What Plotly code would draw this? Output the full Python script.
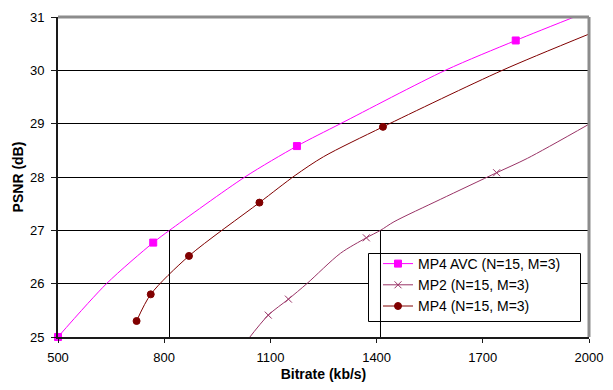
import plotly.graph_objects as go

# ---- data ----
x_ticks = [500, 800, 1100, 1400, 1700, 2000]
y_ticks = [25, 26, 27, 28, 29, 30, 31]

series_names = ["MP4 AVC (N=15, M=3)", "MP2 (N=15, M=3)", "MP4 (N=15, M=3)"]

avc_curve_x = [500, 637, 769, 815, 1028, 1175, 1298, 1594, 1793, 1985]
avc_curve_y = [25.0, 26.0, 26.77, 27.0, 28.0, 28.58, 29.0, 30.0, 30.56, 31.07]
avc_mark_x = [500, 769, 1175, 1793]
avc_mark_y = [25.0, 26.77, 28.58, 30.56]

mp2_curve_x = [1035, 1094, 1151, 1203, 1298, 1371, 1411, 1449, 1580, 1739, 1826, 2000]
mp2_curve_y = [24.94, 25.41, 25.71, 26.0, 26.57, 26.86, 27.0, 27.16, 27.58, 28.08, 28.35, 28.99]
mp2_mark_x = [1094, 1151, 1371, 1739]
mp2_mark_y = [25.41, 25.71, 26.86, 28.08]

mp4_curve_x = [722, 762, 870, 1069, 1170, 1250, 1418, 1755, 2000]
mp4_curve_y = [25.30, 25.80, 26.52, 27.52, 28.03, 28.38, 28.94, 30.0, 30.68]
mp4_mark_x = [722, 762, 870, 1069, 1418]
mp4_mark_y = [25.30, 25.80, 26.52, 27.52, 28.94]

# bitrates where PSNR = 27 dB (drop lines)
drop_x = [815, 1411]
drop_y_bottom = 25
drop_y_top = 27

FONT = "Liberation Sans, Arial, sans-serif"

styles = [
    dict(color="#FF00FF", symbol="square", size=7, lw=1),
    dict(color="#993366", symbol="x-thin", size=7, lw=1),
    dict(color="#800000", symbol="circle", size=7, lw=1),
]
curves = [(avc_curve_x, avc_curve_y), (mp2_curve_x, mp2_curve_y), (mp4_curve_x, mp4_curve_y)]
marks = [(avc_mark_x, avc_mark_y), (mp2_mark_x, mp2_mark_y), (mp4_mark_x, mp4_mark_y)]

fig = go.Figure()

for name, st, (cx, cy), (mx, my) in zip(series_names, styles, curves, marks):
    fig.add_trace(go.Scatter(x=cx, y=cy, mode="lines", line=dict(color=st["color"], width=st["lw"],
                             shape="spline", smoothing=0.8), showlegend=False, hoverinfo="skip"))
    mk = dict(color=st["color"], symbol=st["symbol"], size=st["size"],
              line=dict(color=st["color"], width=1))
    fig.add_trace(go.Scatter(x=mx, y=my, mode="markers", marker=mk, showlegend=False,
                             cliponaxis=False))
    # legend entry
    fig.add_trace(go.Scatter(x=[None], y=[None], mode="lines+markers", name=name,
                             line=dict(color=st["color"], width=1), marker=mk))

L, R, T, B = 58, 24, 17, 53
W, H = 613, 390
pw, ph = W - L - R, H - T - B

def px2paper_x(p):
    return (p - L) / pw

def px2paper_y(p):
    return (H - B - p) / ph

shapes = [
    # top and right border of plot area (gray)
    dict(type="line", xref="paper", yref="paper", x0=0, x1=1, y0=1, y1=1,
         line=dict(color="#8C8C8C", width=3), layer="above"),
    dict(type="line", xref="paper", yref="paper", x0=1, x1=1, y0=0, y1=1,
         line=dict(color="#8C8C8C", width=3), layer="above"),
    # legend box (white, bordered)
    dict(type="rect", xref="paper", yref="paper",
         x0=px2paper_x(368.5), x1=px2paper_x(580.5), y0=px2paper_y(321.5), y1=px2paper_y(253.5),
         fillcolor="#FFFFFF", line=dict(color="#000000", width=1), layer="above"),
]
# drop lines (drawn over the legend box, as in the reference)
for dx in drop_x:
    shapes.append(dict(type="line", xref="x", yref="y", x0=dx, x1=dx,
                       y0=drop_y_bottom, y1=drop_y_top,
                       line=dict(color="#000000", width=1), layer="above"))

fig.update_layout(
    width=W, height=H,
    margin=dict(l=L, r=R, t=T, b=B, pad=0, autoexpand=False),
    paper_bgcolor="#FFFFFF", plot_bgcolor="#FFFFFF",
    font=dict(family=FONT, size=13, color="#000000"),
    shapes=shapes,
    showlegend=True,
    legend=dict(x=px2paper_x(378), y=px2paper_y(248), xanchor="left", yanchor="top",
                bgcolor="rgba(0,0,0,0)", borderwidth=0,
                font=dict(family=FONT, size=14, color="#000000"),
                traceorder="normal"),
    hovermode=False,
)

fig.update_xaxes(
    range=[500, 2000], tickvals=x_ticks, ticktext=[str(v) for v in x_ticks],
    showgrid=False, zeroline=False, automargin=False,
    showline=True, linecolor="#1A1A1A", linewidth=2,
    ticks="outside", ticklen=4, tickcolor="#1A1A1A", tickwidth=1,
    ticklabelstandoff=3,
    tickfont=dict(family=FONT, size=13),
    title=dict(text="<b>Bitrate (kb/s)</b>", font=dict(family=FONT, size=14), standoff=6),
)
fig.update_yaxes(
    range=[25, 31], tickvals=y_ticks,
    showgrid=True, gridcolor="#000000", gridwidth=1, zeroline=False, automargin=False,
    showline=True, linecolor="#1A1A1A", linewidth=2,
    ticks="outside", ticklen=5, tickcolor="#1A1A1A", tickwidth=1,
    ticklabelstandoff=4,
    tickfont=dict(family=FONT, size=13),
    title=dict(text="<b>PSNR (dB)</b>", font=dict(family=FONT, size=14), standoff=3),
)

fig.write_html("out.html", config={"displayModeBar": False, "staticPlot": True},
               post_script="document.body.style.margin='0';")
